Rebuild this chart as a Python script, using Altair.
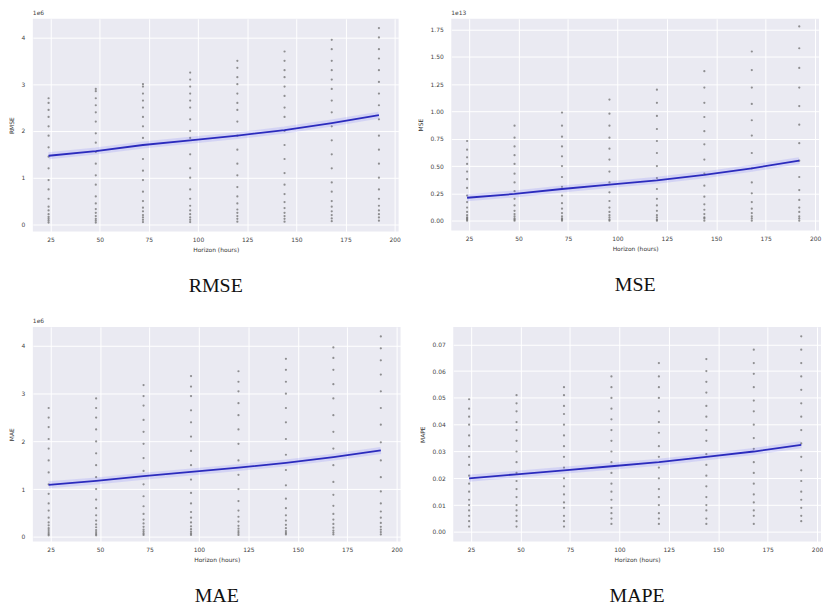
import altair as alt
import pandas as pd

horizons = [24, 48, 72, 96, 120, 144, 168, 192]

# ---- RMSE (x1e6) ----
rmse_points = {
    24: [0.04, 0.08, 0.12, 0.16, 0.22, 0.30, 0.38, 0.55, 0.75, 0.95, 1.20, 1.45, 1.65, 1.90, 2.10, 2.30, 2.45, 2.60, 2.70],
    48: [0.04, 0.08, 0.12, 0.18, 0.25, 0.33, 0.45, 0.60, 0.85, 1.05, 1.30, 1.55, 1.75, 1.95, 2.20, 2.40, 2.55, 2.70, 2.85, 2.90],
    72: [0.05, 0.10, 0.15, 0.20, 0.28, 0.36, 0.50, 0.70, 0.95, 1.15, 1.40, 1.70, 1.85, 2.10, 2.30, 2.50, 2.65, 2.80, 2.95, 3.00],
    96: [0.05, 0.10, 0.15, 0.22, 0.30, 0.40, 0.55, 0.75, 1.00, 1.20, 1.50, 1.85, 2.00, 2.25, 2.50, 2.65, 2.80, 2.95, 3.10, 3.25],
    120: [0.06, 0.12, 0.18, 0.25, 0.32, 0.45, 0.60, 0.80, 1.05, 1.30, 1.60, 1.90, 2.20, 2.45, 2.60, 2.80, 3.00, 3.15, 3.35, 3.50],
    144: [0.06, 0.12, 0.18, 0.25, 0.35, 0.48, 0.65, 0.85, 1.10, 1.40, 1.70, 2.00, 2.30, 2.50, 2.75, 2.95, 3.15, 3.30, 3.50, 3.70],
    168: [0.07, 0.13, 0.20, 0.28, 0.38, 0.50, 0.70, 0.90, 1.20, 1.50, 1.80, 2.10, 2.40, 2.65, 2.90, 3.10, 3.30, 3.50, 3.75, 3.95],
    192: [0.08, 0.15, 0.22, 0.30, 0.40, 0.55, 0.75, 1.00, 1.30, 1.60, 1.90, 2.25, 2.55, 2.80, 3.05, 3.30, 3.55, 3.75, 4.00, 4.20],
}
rmse_fit = [1.47, 1.57, 1.70, 1.80, 1.90, 2.02, 2.17, 2.34]

# ---- MSE (x1e13) ----
mse_points = {
    24: [0.00, 0.01, 0.02, 0.03, 0.05, 0.08, 0.12, 0.17, 0.23, 0.30, 0.38, 0.45, 0.52, 0.58, 0.65, 0.73],
    48: [0.00, 0.01, 0.02, 0.04, 0.06, 0.09, 0.14, 0.20, 0.27, 0.35, 0.43, 0.52, 0.60, 0.68, 0.76, 0.87],
    72: [0.00, 0.01, 0.02, 0.04, 0.07, 0.11, 0.16, 0.23, 0.31, 0.40, 0.50, 0.59, 0.68, 0.77, 0.87, 0.99],
    96: [0.00, 0.01, 0.03, 0.05, 0.08, 0.12, 0.18, 0.26, 0.35, 0.45, 0.56, 0.66, 0.76, 0.87, 0.98, 1.11],
    120: [0.00, 0.01, 0.03, 0.05, 0.09, 0.14, 0.20, 0.29, 0.39, 0.50, 0.62, 0.73, 0.84, 0.96, 1.08, 1.20],
    144: [0.00, 0.02, 0.03, 0.06, 0.10, 0.15, 0.22, 0.32, 0.43, 0.56, 0.70, 0.82, 0.95, 1.08, 1.22, 1.37],
    168: [0.00, 0.02, 0.04, 0.07, 0.11, 0.17, 0.25, 0.35, 0.48, 0.62, 0.78, 0.92, 1.07, 1.22, 1.38, 1.55],
    192: [0.00, 0.02, 0.04, 0.08, 0.12, 0.19, 0.28, 0.40, 0.55, 0.71, 0.88, 1.05, 1.22, 1.40, 1.58, 1.78],
}
mse_fit = [0.21, 0.245, 0.29, 0.33, 0.37, 0.42, 0.48, 0.55]

# ---- MAE (x1e6) ----
mae_points = {
    24: [0.03, 0.06, 0.10, 0.14, 0.18, 0.24, 0.30, 0.40, 0.55, 0.70, 0.90, 1.10, 1.35, 1.60, 1.85, 2.05, 2.30, 2.50, 2.70],
    48: [0.03, 0.06, 0.10, 0.14, 0.20, 0.26, 0.34, 0.45, 0.60, 0.78, 1.00, 1.25, 1.50, 1.75, 2.00, 2.25, 2.50, 2.70, 2.90],
    72: [0.04, 0.07, 0.11, 0.15, 0.21, 0.28, 0.36, 0.48, 0.64, 0.85, 1.10, 1.38, 1.65, 1.95, 2.20, 2.45, 2.75, 2.95, 3.18],
    96: [0.04, 0.07, 0.11, 0.16, 0.22, 0.30, 0.40, 0.52, 0.70, 0.92, 1.20, 1.50, 1.80, 2.10, 2.40, 2.65, 2.95, 3.15, 3.37],
    120: [0.04, 0.08, 0.12, 0.17, 0.23, 0.32, 0.42, 0.55, 0.75, 1.00, 1.30, 1.60, 1.95, 2.25, 2.55, 2.80, 3.05, 3.25, 3.47],
    144: [0.05, 0.08, 0.12, 0.18, 0.25, 0.34, 0.45, 0.60, 0.80, 1.08, 1.40, 1.72, 2.05, 2.40, 2.70, 3.00, 3.25, 3.50, 3.73],
    168: [0.05, 0.09, 0.13, 0.19, 0.27, 0.36, 0.48, 0.65, 0.88, 1.15, 1.50, 1.85, 2.20, 2.55, 2.90, 3.20, 3.50, 3.75, 3.97],
    192: [0.05, 0.10, 0.15, 0.21, 0.29, 0.40, 0.53, 0.70, 0.95, 1.25, 1.60, 1.98, 2.35, 2.70, 3.05, 3.40, 3.70, 3.95, 4.20],
}
mae_fit = [1.09, 1.17, 1.27, 1.36, 1.45, 1.55, 1.67, 1.81]

# ---- MAPE ----
mape_points = {
    24: [0.002, 0.004, 0.006, 0.008, 0.010, 0.012, 0.015, 0.018, 0.021, 0.025, 0.028, 0.032, 0.036, 0.040, 0.043, 0.046, 0.0495],
    48: [0.002, 0.004, 0.006, 0.008, 0.010, 0.013, 0.016, 0.019, 0.022, 0.026, 0.030, 0.034, 0.038, 0.041, 0.045, 0.048, 0.051],
    72: [0.002, 0.004, 0.006, 0.009, 0.011, 0.014, 0.017, 0.020, 0.024, 0.028, 0.032, 0.036, 0.040, 0.044, 0.047, 0.051, 0.054],
    96: [0.003, 0.005, 0.007, 0.009, 0.012, 0.015, 0.018, 0.022, 0.026, 0.030, 0.034, 0.038, 0.042, 0.046, 0.050, 0.054, 0.058],
    120: [0.003, 0.005, 0.007, 0.010, 0.013, 0.016, 0.020, 0.024, 0.028, 0.032, 0.037, 0.041, 0.045, 0.050, 0.054, 0.058, 0.063],
    144: [0.003, 0.005, 0.008, 0.010, 0.013, 0.017, 0.021, 0.025, 0.029, 0.034, 0.038, 0.043, 0.047, 0.052, 0.056, 0.060, 0.0645],
    168: [0.003, 0.006, 0.008, 0.011, 0.014, 0.018, 0.022, 0.026, 0.031, 0.035, 0.040, 0.045, 0.049, 0.054, 0.059, 0.063, 0.068],
    192: [0.004, 0.006, 0.009, 0.012, 0.015, 0.019, 0.023, 0.028, 0.033, 0.038, 0.043, 0.048, 0.053, 0.058, 0.063, 0.068, 0.073],
}
mape_fit = [0.020, 0.0215, 0.023, 0.0245, 0.026, 0.028, 0.030, 0.0325]

x_ticks = [25, 50, 75, 100, 125, 150, 175, 200]


def to_points(d):
    rows = []
    for h, vals in d.items():
        for v in vals:
            rows.append({"h": h, "v": v})
    return pd.DataFrame(rows)


def to_fit(vals):
    return pd.DataFrame({"h": horizons, "v": vals})


def panel(pts, fit, ydom, yticks, yfmt, ytitle, offset_label, caption, w, h):
    xs = alt.X("h:Q", scale=alt.Scale(domain=[16, 202], nice=False, zero=False),
               axis=alt.Axis(values=x_ticks, title="Horizon (hours)", format="d"))
    ys = alt.Y("v:Q", scale=alt.Scale(domain=ydom, nice=False, zero=False),
               axis=alt.Axis(values=yticks, title=ytitle, format=yfmt, labelPadding=8, titlePadding=7))
    dots = alt.Chart(to_points(pts)).mark_circle(size=5, color="#666666", opacity=0.7).encode(x=xs, y=ys)
    band = alt.Chart(to_fit(fit)).mark_line(color="#7070ff", strokeWidth=7, opacity=0.18).encode(x=xs, y=ys)
    line = alt.Chart(to_fit(fit)).mark_line(color="#2b2bbd", strokeWidth=1.8).encode(x=xs, y=ys)
    off = alt.Chart(pd.DataFrame({"t": [offset_label]})).mark_text(
        align="left", baseline="bottom", fontSize=6, color="#444444", font="DejaVu Sans"
    ).encode(x=alt.value(0), y=alt.value(-3), text="t:N")
    return alt.layer(dots, band, line, off).properties(
        width=w, height=h,
        title=alt.TitleParams(caption, orient="bottom", font="Liberation Serif", fontSize=20,
                              fontWeight="normal", color="#111111", offset=24),
    )


p1 = panel(rmse_points, rmse_fit, [-0.15, 4.4], [0, 1, 2, 3, 4], "d", "RMSE", "1e6", "RMSE", 368, 214)
p2 = panel(mse_points, mse_fit, [-0.09, 1.85], [0, 0.25, 0.5, 0.75, 1.0, 1.25, 1.5, 1.75], ".2f", "MSE", "1e13", "MSE", 370, 213)
p3 = panel(mae_points, mae_fit, [-0.1, 4.4], [0, 1, 2, 3, 4], "d", "MAE", "1e6", "MAE", 370, 216)
p4 = panel(mape_points, mape_fit, [-0.0036, 0.0765], [0, 0.01, 0.02, 0.03, 0.04, 0.05, 0.06, 0.07], ".2f", "MAPE", "", "MAPE", 370, 216)

chart = alt.vconcat(
    alt.hconcat(p1, p2, spacing=16),
    alt.hconcat(p3, p4, spacing=16),
    spacing=22,
).properties(padding=0).configure_view(
    fill="#EAEAF2", stroke=None
).configure_axis(
    grid=True, gridColor="#ffffff", gridWidth=1, domain=False, ticks=False,
    labelFontSize=6, labelColor="#444444", labelFont="DejaVu Sans", labelPadding=5,
    titleFontSize=6, titleColor="#333333", titleFont="DejaVu Sans", titleFontWeight="normal", titlePadding=4,
).configure_concat(spacing=16)

chart.save("out.html", embed_options={"renderer": "svg", "actions": False})
